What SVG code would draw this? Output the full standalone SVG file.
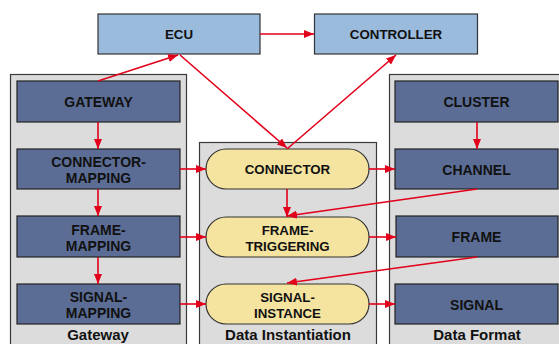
<svg xmlns="http://www.w3.org/2000/svg" width="559" height="344" viewBox="0 0 559 344">
<style>
.panel{fill:#dcdcdc;stroke:#3a3a3a;stroke-width:1.2}
.top{fill:#9bbbdd;stroke:#333;stroke-width:1.2}
.blue{fill:#5b6d95;stroke:#222;stroke-width:1.2}
.pill{fill:#f5e49f;stroke:#333;stroke-width:1.2}
text{font-family:"Liberation Sans",Arial,sans-serif;font-weight:bold;fill:#111;text-anchor:middle}
.t{font-size:13.3px}
.b{font-size:14px}
.lbl{font-size:15px}
.c line{stroke:#e2001a;stroke-width:1.6;marker-end:url(#ah)}
</style>
<defs>
<marker id="ah" viewBox="0 0 10 8" refX="10" refY="4" markerWidth="10" markerHeight="8" markerUnits="userSpaceOnUse" orient="auto">
<path d="M0,0 L10,4 L0,8 Z" fill="#e2001a"/>
</marker>
</defs>
<rect width="559" height="344" fill="#ffffff"/>
<g id="panel-gateway">
<rect class="panel" x="10.5" y="74.5" width="176" height="280"/>
<text class="lbl" x="98" y="340">Gateway</text>
</g>
<g id="panel-instantiation">
<rect class="panel" x="199.5" y="142.5" width="177" height="220"/>
<text class="lbl" x="288" y="340">Data Instantiation</text>
</g>
<g id="panel-format">
<rect class="panel" x="389.5" y="74.5" width="180" height="280"/>
<text class="lbl" x="477" y="340">Data Format</text>
</g>
<g id="ecu"><rect class="top" x="98" y="14" width="162" height="40"/><text class="t" x="179" y="39">ECU</text></g>
<g id="controller"><rect class="top" x="314.5" y="14" width="163" height="40"/><text class="t" x="396" y="39">CONTROLLER</text></g>
<g id="gateway"><rect class="blue" x="17" y="81" width="163" height="41"/><text class="b" x="98.5" y="107">GATEWAY</text></g>
<g id="connector-mapping"><rect class="blue" x="17" y="149" width="163" height="40"/><text class="b" x="98.5" y="167">CONNECTOR-</text><text class="b" x="98.5" y="183">MAPPING</text></g>
<g id="frame-mapping"><rect class="blue" x="17" y="216" width="163" height="41"/><text class="b" x="98.5" y="234.5">FRAME-</text><text class="b" x="98.5" y="250.5">MAPPING</text></g>
<g id="signal-mapping"><rect class="blue" x="17" y="284" width="163" height="40"/><text class="b" x="98.5" y="302">SIGNAL-</text><text class="b" x="98.5" y="318">MAPPING</text></g>
<g id="connector"><rect class="pill" x="206" y="149" width="163" height="40" rx="20"/><text class="t" x="287.5" y="174">CONNECTOR</text></g>
<g id="frame-triggering"><rect class="pill" x="206" y="217" width="163" height="40" rx="20"/><text class="t" x="287.5" y="235">FRAME-</text><text class="t" x="287.5" y="251">TRIGGERING</text></g>
<g id="signal-instance"><rect class="pill" x="206" y="284" width="163" height="40" rx="20"/><text class="t" x="287.5" y="302">SIGNAL-</text><text class="t" x="287.5" y="318">INSTANCE</text></g>
<g id="cluster"><rect class="blue" x="395" y="81" width="163" height="41"/><text class="b" x="476.5" y="107">CLUSTER</text></g>
<g id="channel"><rect class="blue" x="395" y="149" width="163" height="40"/><text class="b" x="476.5" y="175">CHANNEL</text></g>
<g id="frame"><rect class="blue" x="396" y="216" width="162" height="41"/><text class="b" x="476.5" y="242">FRAME</text></g>
<g id="signal"><rect class="blue" x="395" y="284" width="163" height="40"/><text class="b" x="476.5" y="310">SIGNAL</text></g>
<g id="connectors" class="c">
<line x1="98" y1="81" x2="178" y2="55"/>
<line x1="180" y1="55" x2="287" y2="148"/>
<line x1="287" y1="149" x2="396" y2="55"/>
<line x1="260" y1="34" x2="314" y2="34"/>
<line x1="98" y1="122" x2="98" y2="149"/>
<line x1="98" y1="189" x2="98" y2="216"/>
<line x1="98" y1="257" x2="98" y2="284"/>
<line x1="477" y1="122" x2="477" y2="149"/>
<line x1="287" y1="189" x2="287" y2="217"/>
<line x1="477" y1="189" x2="287" y2="216"/>
<line x1="477" y1="257" x2="287" y2="283"/>
<line x1="180" y1="169" x2="206" y2="169"/>
<line x1="180" y1="237" x2="206" y2="237"/>
<line x1="180" y1="304" x2="206" y2="304"/>
<line x1="369" y1="169" x2="395" y2="169"/>
<line x1="369" y1="237" x2="396" y2="237"/>
<line x1="369" y1="304" x2="395" y2="304"/>
</g>
</svg>
